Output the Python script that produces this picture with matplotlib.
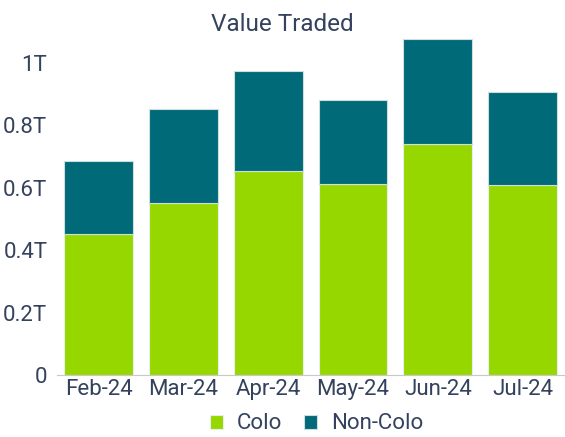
import matplotlib.pyplot as plt
import numpy as np

plt.rcParams['font.family'] = ['Roboto', 'DejaVu Sans']

months = ['Feb-24', 'Mar-24', 'Apr-24', 'May-24', 'Jun-24', 'Jul-24']
colo = [0.453, 0.550, 0.654, 0.612, 0.741, 0.608]
non_colo = [0.233, 0.304, 0.320, 0.271, 0.337, 0.298]

GREEN = '#97d700'
TEAL = '#006a78'
TEXT = '#34425e'

fig = plt.figure(figsize=(5.65, 4.37), dpi=100)
ax = fig.add_axes([0.101, 0.142, 0.899, 0.785])

x = np.arange(len(months))
ax.bar(x, colo, width=0.81, color=GREEN, edgecolor='#e8eef0', linewidth=0.8, label='Colo')
ax.bar(x, non_colo, width=0.81, bottom=colo, color=TEAL, edgecolor='#d0dde0', linewidth=0.8, label='Non-Colo')

ax.set_xlim(-0.49, len(months) - 0.5)
ax.set_ylim(0, 1.1)
ax.set_yticks([0, 0.2, 0.4, 0.6, 0.8, 1.0])
ax.set_yticklabels(['0', '0.2T', '0.4T', '0.6T', '0.8T', '1T'])
ax.set_xticks(x)
ax.set_xticklabels(months)
ax.tick_params(axis='both', colors=TEXT, labelsize=16, length=0)
ax.tick_params(axis='x', pad=3)
ax.tick_params(axis='y', pad=7)

for s in ['top', 'right', 'left']:
    ax.spines[s].set_visible(False)
ax.spines['bottom'].set_color('#c8c8c8')

fig.text(0.5, 0.943, 'Value Traded', ha='center', va='center', fontsize=17.5, color=TEXT)

handles, labels = ax.get_legend_handles_labels()
fig.legend(handles, labels, loc='center', bbox_to_anchor=(0.56, 0.03), ncol=2,
           frameon=False, fontsize=16, labelcolor=TEXT, handlelength=0.6, handleheight=0.6,
           columnspacing=1.0, handletextpad=0.6)

fig.savefig('out.png', dpi=100)
